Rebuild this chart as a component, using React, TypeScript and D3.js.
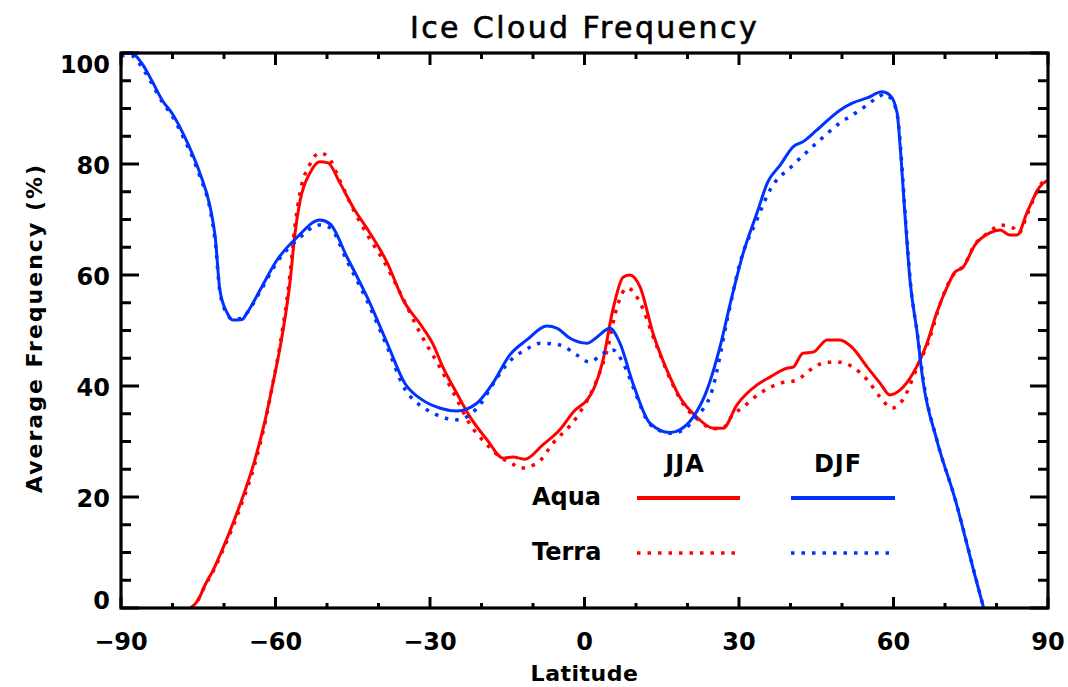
import React from "react";
import * as d3 from "d3";

const jjaAquaLat = [-76.4, -75, -73.7, -72, -70.8, -69, -66.9, -64, -62, -60.5, -59.1, -57.2, -56.2, -55.2, -53.3, -51.4, -49.8, -47.5, -45, -41.7, -38.3, -35.2, -31.4, -29.4, -27.5, -24.8, -22.2, -18.9, -15.8, -13.9, -11.6, -8.1, -4.8, -2, 0.5, 1.7, 3.6, 5.5, 7.5, 8.8, 10.8, 13.3, 16.6, 18.5, 21.8, 25, 26.9, 29.6, 33.5, 36, 39.3, 40.5, 42.4, 44.4, 47.1, 49.6, 51.9, 54.9, 57.4, 59.3, 61.3, 63.8, 66.5, 68.4, 70.4, 71.9, 73.5, 75.8, 78.7, 80.7, 82.6, 84, 85.9, 88.4, 90];
const jjaAquaVal = [0, 1.5, 4.1, 7, 9.5, 13.5, 18.6, 26.7, 33.9, 40.5, 47, 58.6, 67.6, 73.5, 78.4, 80.4, 80.2, 76.6, 72.3, 67.6, 62.2, 55.5, 50.5, 47.5, 43.4, 38.7, 34.4, 30.3, 27, 27.2, 26.8, 29.4, 32.1, 35.5, 37.5, 39.3, 44.7, 53.7, 59.6, 60, 57.8, 49.5, 41.6, 38, 34.4, 32.4, 32.4, 36.6, 40.2, 41.6, 43.2, 43.4, 45.9, 46.1, 48.3, 48.3, 47, 43.4, 40.5, 38.4, 39.3, 42.3, 47.7, 53.2, 57.8, 60.5, 61.4, 65.4, 67.6, 68.1, 67.2, 67.2, 71.2, 75.9, 77.1];

const jjaTerraLat = [-76.4, -75, -73.7, -72, -70.8, -69, -66.9, -64, -62, -60.5, -59.1, -57.2, -56.2, -55.2, -53.3, -51.4, -49.8, -47.5, -45, -41.7, -39.1, -35.8, -31.9, -28.1, -25, -22.5, -19, -16.4, -14, -12.5, -9.2, -6.1, -1.5, 2.4, 4.4, 6.3, 8.3, 10.2, 14.1, 17, 19, 22, 25, 27, 28.5, 30.8, 34.1, 38, 41.3, 43.8, 47.1, 49.6, 52.1, 54.9, 57.4, 59.7, 61.8, 64.6, 67.1, 68.6, 70.4, 72, 73.5, 75.8, 78.7, 80.7, 83.2, 84.3, 86, 88.4, 90];
const jjaTerraVal = [0, 1.5, 4, 6.8, 9.2, 13, 18, 26, 33.5, 40.5, 47.5, 60, 69, 75, 80, 82, 81.3, 77, 72, 66.5, 62.7, 56.8, 49.5, 43.4, 38, 33.5, 29.5, 27.2, 26, 25.2, 26.1, 29.7, 34.4, 41.1, 46.5, 54.2, 57.7, 56, 47, 40.5, 37, 34, 32.3, 32.5, 34.5, 36.2, 38.7, 40.5, 41.1, 42.9, 44.3, 44.3, 43.4, 41.1, 38, 36, 37.5, 43.4, 48.8, 53.5, 58, 60.5, 61.5, 65.5, 67.8, 69, 68.5, 67.5, 71, 76, 77.8];

const djfAquaLat = [-90, -88, -86, -84, -82, -80, -78, -76, -74.7, -72.7, -71.7, -70.8, -69.4, -68.3, -66.5, -65.5, -63, -59.7, -55.8, -51.4, -49.4, -46.1, -42.2, -38.3, -34.9, -31.5, -28, -24.8, -20.9, -17.8, -14.5, -11.2, -7.3, -5.3, -2.8, 0.5, 2.4, 4.9, 6.9, 9.4, 12.7, 16.6, 18.5, 21.1, 23.8, 26.3, 28.6, 30.8, 33.5, 35.6, 38, 40.5, 42.4, 45.1, 49.6, 52.1, 54.9, 57.8, 59.3, 60.7, 61.3, 62.2, 63.2, 64.6, 65.7, 68.4, 72, 75.8, 77.5];
const djfAquaVal = [100, 100, 98.2, 95, 91.5, 89, 85.6, 81.5, 78.4, 72.3, 66.8, 57.3, 53.2, 51.9, 52, 53.2, 57.3, 62.7, 66.8, 69.9, 69.2, 63.2, 56, 47.7, 40.5, 37.5, 36, 35.5, 36.9, 40.5, 45.6, 48.3, 50.8, 50.4, 48.6, 47.7, 48.8, 50.4, 47.7, 40.5, 33.3, 31.6, 32.1, 34.4, 39.3, 47, 56, 63.9, 71.2, 76.8, 79.8, 83.1, 84, 86.1, 89.7, 91, 91.9, 93, 92.4, 89.2, 83.1, 71.2, 59.1, 49.5, 41.1, 30.3, 19.5, 5.9, 0];

const djfTerraLat = [-90, -88, -86, -84, -82, -80, -78, -76, -74.7, -72.7, -71.7, -70.8, -69.4, -68.3, -66.5, -65.5, -63, -59.7, -55.8, -51.4, -49.4, -46.1, -42.2, -38.3, -34.9, -31.9, -29.4, -26, -24.6, -22, -20, -17.8, -14.5, -11.5, -8.6, -4.8, -1.5, 1, 3.6, 5.5, 7.5, 10.2, 12.1, 14.5, 17, 19, 21.5, 24.8, 27.7, 30.2, 33.5, 36, 40.5, 45.1, 49.6, 53.5, 56.8, 58.3, 59.5, 60.8, 61.4, 62.3, 63.3, 64.7, 65.8, 68.5, 72, 75.8, 77.5];
const djfTerraVal = [99.5, 99.5, 97.5, 94.5, 91.2, 88.6, 85, 81, 77.8, 71.8, 66, 57, 53, 52, 52.2, 53.2, 57, 62.3, 66.3, 69, 68.5, 62.5, 55.3, 47, 39.5, 36.5, 35.1, 34, 33.9, 35, 37, 40.3, 44.5, 46.5, 47.7, 47.4, 45.6, 44.3, 45.9, 46.5, 44.1, 38, 33.9, 32, 31.5, 32, 34.2, 39.3, 51.9, 62.2, 70, 75.3, 79.8, 83.8, 87.4, 89.7, 91.9, 92.6, 91.8, 88.5, 82.5, 70.5, 58.5, 49, 41, 30, 19.5, 6, 0];

const xTicks = [-90, -60, -30, 0, 30, 60, 90];
const yTicks = [0, 20, 40, 60, 80, 100];
const xMinor = d3.range(-90, 91, 10);
const yMinor = d3.range(0, 101, 5);

const RED = "#ff0000";
const BLUE = "#0033ff";

export default function App() {
  const W = 1068, H = 687;
  const L = 121, R = 1048, T = 53, B = 608;
  const x = d3.scaleLinear().domain([-90, 90]).range([L, R]);
  const y = d3.scaleLinear().domain([0, 100]).range([B, T]);
  const line = d3.line<[number, number]>().x(d => x(d[0])).y(d => y(d[1])).curve(d3.curveMonotoneX);
  const mk = (lat: number[], val: number[]) => line(lat.map((l, i) => [l, val[i]] as [number, number])) || "";

  const series = [
    { d: mk(jjaAquaLat, jjaAquaVal), c: RED, dot: false },
    { d: mk(jjaTerraLat, jjaTerraVal), c: RED, dot: true },
    { d: mk(djfAquaLat, djfAquaVal), c: BLUE, dot: false },
    { d: mk(djfTerraLat, djfTerraVal), c: BLUE, dot: true },
  ];

  const font = "'DejaVu Sans', sans-serif";
  const yLabelShift = (v: number) => (v === 100 ? 12 : v === 0 ? -7 : 2);

  return (
    <div style={{ position: "absolute", left: 0, top: 0 }}>
      <svg width={W} height={H} style={{ display: "block", background: "#fff" }}>
        <defs>
          <clipPath id="plot">
            <rect x={L} y={T - 3} width={R - L} height={B - T + 3} />
          </clipPath>
        </defs>
        <g clipPath="url(#plot)">
          {series.map((s, i) => (
            <path key={i} d={s.d} fill="none" stroke={s.c} strokeWidth={s.dot ? 3.5 : 3}
              strokeDasharray={s.dot ? "3.5 7" : undefined} strokeLinejoin="round" />
          ))}
        </g>
        <rect x={L} y={T} width={R - L} height={B - T} fill="none" stroke="#000" strokeWidth={3.2} />
        {xMinor.map(v => {
          const major = v % 30 === 0;
          return (
            <g key={"x" + v}>
              <line x1={x(v)} x2={x(v)} y1={B} y2={B - (major ? 11 : 5)} stroke="#000" strokeWidth={3} />
              <line x1={x(v)} x2={x(v)} y1={T} y2={T + (major ? 12 : 6)} stroke="#000" strokeWidth={3} />
            </g>
          );
        })}
        {yMinor.map(v => {
          const major = v % 20 === 0;
          return (
            <g key={"y" + v}>
              <line x1={L} x2={L + (major ? 18 : 10)} y1={y(v)} y2={y(v)} stroke="#000" strokeWidth={3} />
              <line x1={R} x2={R - (major ? 18 : 10)} y1={y(v)} y2={y(v)} stroke="#000" strokeWidth={3} />
            </g>
          );
        })}
        {xTicks.map(v => (
          <text key={"xl" + v} x={x(v)} y={B + 42} textAnchor="middle" fontFamily={font} fontWeight="bold" fontSize={24}>
            {v < 0 ? "\u2212" + Math.abs(v) : String(v)}
          </text>
        ))}
        {yTicks.map(v => (
          <text key={"yl" + v} x={L - 11} y={y(v) + yLabelShift(v)} textAnchor="end" dominantBaseline="central"
            fontFamily={font} fontWeight="bold" fontSize={24}>
            {v}
          </text>
        ))}
        <text x={(L + R) / 2} y={38} textAnchor="middle" fontFamily={font} fontSize={30} letterSpacing={2.4}
          stroke="#000" strokeWidth={0.6}>
          Ice Cloud Frequency
        </text>
        <text x={(L + R) / 2} y={681} textAnchor="middle" fontFamily={font} fontWeight="bold" fontSize={22} letterSpacing={0.5}>
          Latitude
        </text>
        <text transform={`translate(42, 328) rotate(-90)`} textAnchor="middle" fontFamily={font} fontWeight="bold"
          fontSize={22} letterSpacing={2}>
          Average Frequency (%)
        </text>
        <text x={685} y={472} textAnchor="middle" fontFamily={font} fontWeight="bold" fontSize={24} letterSpacing={1}>JJA</text>
        <text x={838} y={472} textAnchor="middle" fontFamily={font} fontWeight="bold" fontSize={24} letterSpacing={1}>DJF</text>
        <text x={532} y={505} fontFamily={font} fontWeight="bold" fontSize={24}>Aqua</text>
        <text x={532} y={560} fontFamily={font} fontWeight="bold" fontSize={24}>Terra</text>
        <line x1={637} x2={740} y1={498} y2={498} stroke={RED} strokeWidth={4} />
        <line x1={791} x2={895} y1={498} y2={498} stroke={BLUE} strokeWidth={4} />
        <line x1={637} x2={737} y1={553} y2={553} stroke={RED} strokeWidth={3.5} strokeDasharray="3.5 7" />
        <line x1={791} x2={891} y1={553} y2={553} stroke={BLUE} strokeWidth={3.5} strokeDasharray="3.5 7" />
      </svg>
    </div>
  );
}
